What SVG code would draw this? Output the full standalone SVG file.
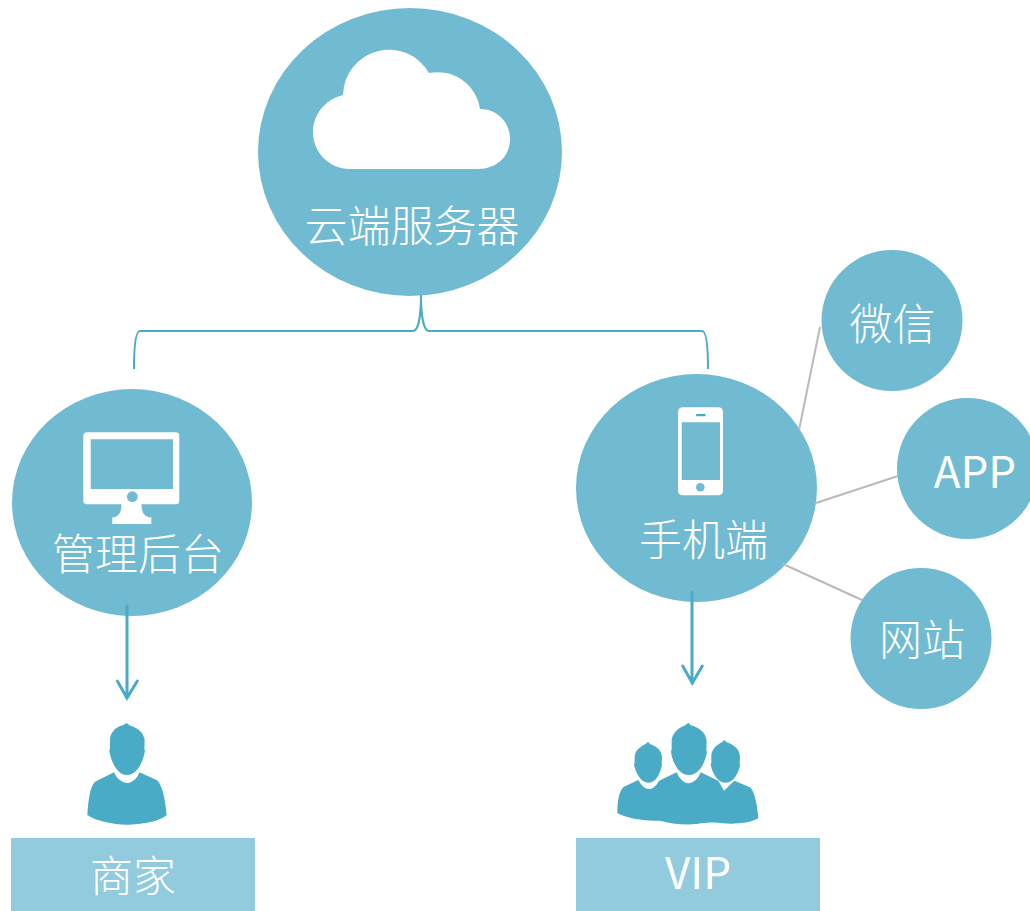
<svg xmlns="http://www.w3.org/2000/svg" width="1030" height="911" viewBox="0 0 1030 911">
<style>
.c{fill:#70bbd1}
.w{fill:#fff}
.p{fill:#4aabc6}
.b{fill:#92cbdd}
.t{fill:#fff;font-family:"Noto Sans CJK SC","Noto Sans",sans-serif;font-size:43px;font-weight:300;text-anchor:middle}
.l{font-size:44px;font-weight:400}
.k{fill:none;stroke:#4aabc6;stroke-width:2}
.a{fill:none;stroke:#4aabc6;stroke-width:3;stroke-linecap:round}
.g{fill:none;stroke:#bdb9bb;stroke-width:2}
</style>
<rect width="1030" height="911" fill="#fff"/>
<g id="cloud-server">
<ellipse class="c" cx="410" cy="152" rx="152" ry="144"/>
<path class="w" d="M350 169H478C496 169 510 157 510 139C510 122 497 109 480 109A43 43 0 0 0 429 73A46 46 0 0 0 343 95C326 99 313 114 313 132C313 153 330 169 350 169Z"/>
<text class="t" x="412" y="242">云端服务器</text>
</g>
<g id="admin">
<ellipse class="c" cx="132" cy="502.500" rx="120" ry="113.500"/>
<path class="w" fill-rule="evenodd" d="M87 432.300H176Q179.300 432.300 179.300 436V500.500Q179.300 504.300 176 504.300H141.500C141.500 512 144 517.300 151.300 517.300V524H112.300V517.300C119 517.300 121.500 512 121.500 504.300H87Q83.300 504.300 83.300 500.500V436Q83.300 432.300 87 432.300ZM90.700 439.300V489H173V439.300Z"/>
<circle class="c" cx="132.300" cy="496.700" r="5.400"/>
<text class="t" x="138" y="570">管理后台</text>
</g>
<g id="mobile">
<ellipse class="c" cx="696.500" cy="488" rx="120.500" ry="114"/>
<path class="w" fill-rule="evenodd" d="M683 407.300H718Q723 407.300 723 412V490.500Q723 495.300 718 495.300H683Q678 495.300 678 490.500V412Q678 407.300 683 407.300ZM681.700 422.300V480H720V422.300Z"/>
<rect class="p" x="696" y="414" width="9.700" height="2.200" rx="1"/>
<circle class="c" cx="700.300" cy="487.300" r="4.300"/>
<text class="t" x="703.500" y="556">手机端</text>
</g>
<g id="wechat">
<circle class="c" cx="892" cy="320.500" r="70.500"/>
<text class="t" x="892.500" y="340">微信</text>
</g>
<g id="app">
<circle class="c" cx="967.500" cy="468.500" r="70.500"/>
<text class="t l" x="975" y="488">APP</text>
</g>
<g id="website">
<circle class="c" cx="921" cy="638.500" r="70.500"/>
<text class="t" x="922" y="656">网站</text>
</g>
<g id="connectors">
<path class="k" d="M134 369C134 350 135 331 140 331H413C419 331 421 312 421 295C421 312 423 331 429 331H702C707 331 708 350 708 369"/>
<path class="a" d="M127 606V698M117.300 681L127 698L137.300 681"/>
<path class="a" d="M692 592V683M682.700 666L692.300 683L702.300 666"/>
<path class="g" d="M820 327L799 430M898 476L816 503M783 564L862 600"/>
</g>
<g id="merchant">
<g transform="translate(60 600) scale(.3333)">
<path class="p" d="M200 369L208 376C225 382 250 392 254 420L253 448L255 452C250 480 235 525 200 525C170 525 152 480 148 452L150 445L150 415C155 390 175 378 188 376Z"/>
<path class="p" d="M162 517C170 535 185 549 202 549C218 549 232 535 238 517L290 540C305 550 315 590 320 645C300 665 240 674 200 674C160 674 105 662 82 645C85 600 90 560 105 545Z"/>
</g>
<rect class="b" x="11" y="838" width="244" height="73"/>
<text class="t" x="133" y="892">商家</text>
</g>
<g id="vip">
<g transform="translate(600 650) scale(.3333)">
<path class="p" d="M52 490C52 450 58 420 72 410L115 390C125 408 135 417 147 417C160 417 170 405 177 392L230 367C238 385 250 400 265 400C282 400 295 385 302 367L355 392L372 422L403 392L450 412C465 425 472 470 475 505C450 520 400 523 370 520C340 516 320 518 290 522C250 526 210 520 180 512C140 515 80 505 52 490Z"/>
<path class="p" d="M265 218L272 226C295 232 318 245 320 275L319 300L321 305C316 335 300 375 266 375C235 375 217 335 213 305L215 298V270C218 245 240 232 256 226Z"/>
<path class="p" d="M144 275L150 282C165 287 184 298 186 320L185 340L186 344C182 365 170 398 145 398C122 398 106 365 102 344L104 338V318C107 298 125 288 137 282Z"/>
<path class="p" d="M373 270L380 277C397 283 419 294 420 320L419 340L421 344C416 365 403 398 376 398C352 398 336 365 332 344L334 338V315C337 295 353 283 366 277Z"/>
</g>
<rect class="b" x="576" y="838" width="244" height="73"/>
<text class="t l" x="698" y="889">VIP</text>
</g>
</svg>
